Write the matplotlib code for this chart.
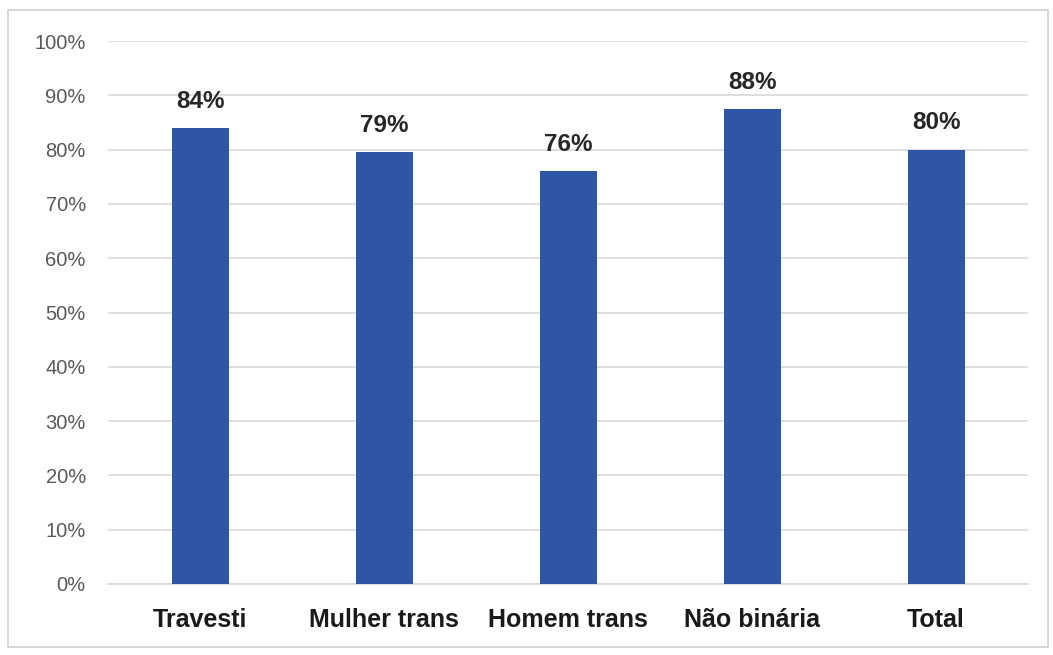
import matplotlib.pyplot as plt
from matplotlib.patches import Rectangle
from matplotlib.ticker import PercentFormatter

categories = ["Travesti", "Mulher trans", "Homem trans", "Não binária", "Total"]
values = [0.84, 0.795, 0.76, 0.875, 0.80]
labels = ["84%", "79%", "76%", "88%", "80%"]

plt.rcParams['font.family'] = ['Liberation Sans', 'DejaVu Sans']

fig = plt.figure(figsize=(10.53, 6.55), dpi=100)
ax = fig.add_axes([0.1026, 0.1084, 0.8737, 0.829])

x = range(len(categories))
bars = ax.bar(x, values, width=0.31, color="#2F56A6", zorder=3)

for b, lab in zip(bars, labels):
    ax.annotate(lab, (b.get_x() + b.get_width() / 2, b.get_height()),
                xytext=(0, 11), textcoords="offset points",
                ha="center", va="bottom", fontsize=17.5, fontweight="bold",
                color="#262626")

ax.set_xlim(-0.5, len(categories) - 0.5)
ax.set_ylim(0, 1.0)
ax.set_yticks([i / 10 for i in range(11)])
ax.yaxis.set_major_formatter(PercentFormatter(1.0, decimals=0))
ax.set_xticks(list(x))
ax.set_xticklabels(categories, fontsize=18, fontweight="bold", color="#1a1a1a")
ax.tick_params(axis="y", labelsize=14.5, labelcolor="#595959", length=0, pad=16)
ax.tick_params(axis="x", length=0, pad=17)

ax.grid(axis="y", color="#D9D9D9", linewidth=1.2, zorder=0)
for s in ["top", "right", "left"]:
    ax.spines[s].set_visible(False)
ax.spines["bottom"].set_color("#D9D9D9")
ax.spines["bottom"].set_linewidth(1.2)

fig.patches.append(Rectangle((0.008, 0.012), 0.987, 0.972, transform=fig.transFigure,
                             fill=False, edgecolor="#D0D0D0", linewidth=1.2))

fig.savefig("out.png", dpi=100)
